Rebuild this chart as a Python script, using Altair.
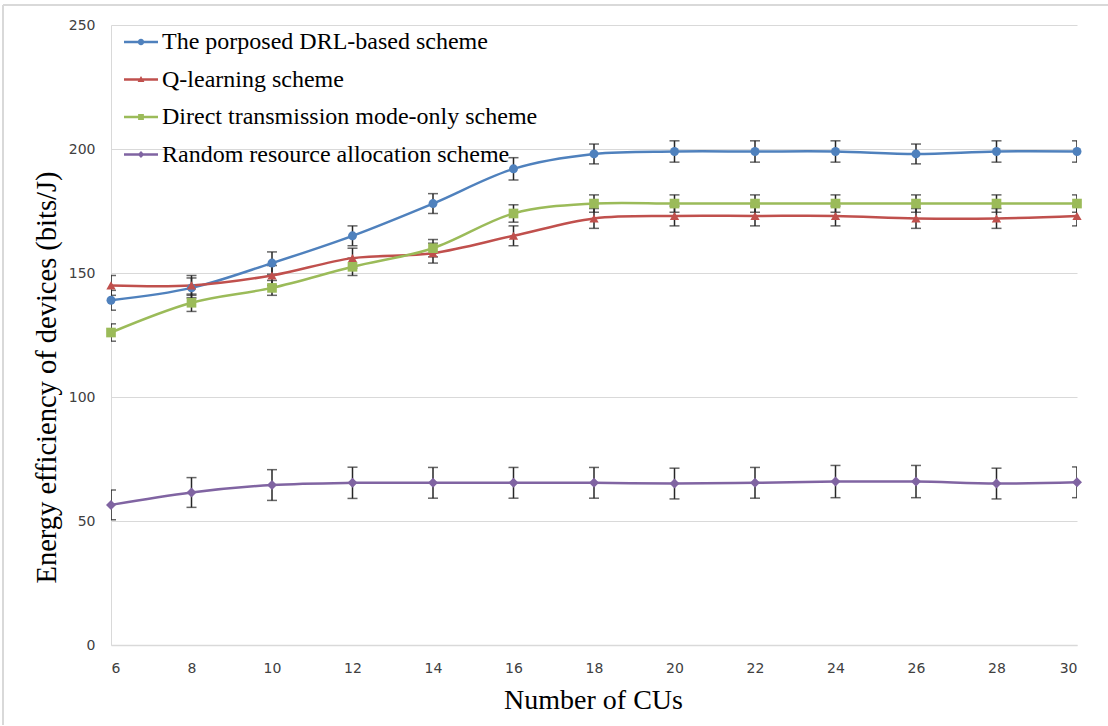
import altair as alt
import pandas as pd

# ---------------- data ----------------
cus = [6, 8, 10, 12, 14, 16, 18, 20, 22, 24, 26, 28, 30]

series_names = [
    "The porposed DRL-based scheme",
    "Q-learning scheme",
    "Direct transmission mode-only scheme",
    "Random resource allocation scheme",
]

drl = [139, 144, 154, 165, 178, 192, 198, 199, 199, 199, 198, 199, 199]
drl_err = [4, 4, 4.5, 4, 4, 4.5, 4, 4.3, 4.3, 4.3, 4, 4.3, 4.3]

qlearn = [145, 145, 149, 156, 158, 165, 172, 173, 173, 173, 172, 172, 173]
qlearn_err = [4, 4, 4, 4, 4, 4, 4, 4, 4, 4, 4, 4, 4]

direct = [126, 138, 144, 152.5, 160, 174, 178, 178, 178, 178, 178, 178, 178]
direct_err = [3.5, 3.5, 3, 3.5, 3.5, 3.5, 3.5, 3.5, 3.5, 3.5, 3.5, 3.5, 3.5]

rand = [56.5, 61.5, 64.5, 65.4, 65.4, 65.4, 65.4, 65.1, 65.4, 65.9, 65.9, 65.1, 65.6]
rand_err = [6, 6, 6.2, 6.3, 6.2, 6.2, 6.2, 6.2, 6.2, 6.5, 6.5, 6.2, 6.2]

x_ticks = list(range(6, 31, 2))
y_ticks = [0, 50, 100, 150, 200, 250]

colors = ["#4F81BD", "#C0504D", "#9BBB59", "#8064A2"]
marker_shapes = ["circle", "triangle-up", "square", "diamond"]

# legend symbols: a short line with the marker in the middle (unit box = 34 px)
_bar = "M-1,-0.075 L1,-0.075 L1,0.075 L-1,0.075 Z "
legend_paths = [
    _bar + "M0.19,0 A0.19,0.19 0 1,1 -0.19,0 A0.19,0.19 0 1,1 0.19,0 Z",
    _bar + "M0,-0.2 L0.2,0.15 L-0.2,0.15 Z",
    _bar + "M-0.17,-0.17 L0.17,-0.17 L0.17,0.17 L-0.17,0.17 Z",
    _bar + "M0,-0.2 L0.2,0 L0,0.2 L-0.2,0 Z",
]

rows = []
for name, vals, errs in zip(series_names, [drl, qlearn, direct, rand],
                            [drl_err, qlearn_err, direct_err, rand_err]):
    for x, v, e in zip(cus, vals, errs):
        rows.append({"series": name, "cus": x, "value": v,
                     "lo": v - e, "hi": v + e})
df = pd.DataFrame(rows)

serif = "Liberation Serif"

x_enc = alt.X("cus:Q",
              scale=alt.Scale(domain=[6, 30], nice=False, zero=False),
              axis=alt.Axis(values=x_ticks, title="Number of CUs",
                            grid=False, ticks=False, domain=True,
                            domainColor="#d9d9d9", domainWidth=1.5,
                            labelFont="DejaVu Sans", labelFontSize=14,
                            labelColor="#404040", labelPadding=16,
                            titleFont=serif, titleFontSize=28,
                            titleFontWeight="normal", titleColor="#000000",
                            titleX=482, titleY=55, titleBaseline="middle"))
y_enc = alt.Y("value:Q",
              scale=alt.Scale(domain=[0, 250], nice=False),
              axis=alt.Axis(values=y_ticks,
                            title="Energy efficiency of devices (bits/J)",
                            grid=True, gridColor="#d9d9d9", gridWidth=1,
                            ticks=False, domain=True, domainColor="#d9d9d9",
                            labelFont="DejaVu Sans", labelFontSize=14,
                            labelColor="#404040", labelPadding=16,
                            titleFont=serif, titleFontSize=28.5,
                            titleFontWeight="normal", titleColor="#000000",
                            titleAngle=-90, titleX=-65, titleY=352,
                            titleAlign="center", titleBaseline="middle"))

color_nolegend = alt.Color("series:N",
                           scale=alt.Scale(domain=series_names, range=colors),
                           legend=None)

base = alt.Chart(df)

err_rule = base.mark_rule(color="#262626", strokeWidth=1.5, clip=True).encode(
    x=x_enc, y=alt.Y("lo:Q"), y2="hi:Q")
err_lo = base.mark_tick(color="#262626", thickness=1.5, size=10,
                        orient="horizontal", clip=True).encode(
    x="cus:Q", y="lo:Q")
err_hi = base.mark_tick(color="#262626", thickness=1.5, size=10,
                        orient="horizontal", clip=True).encode(
    x="cus:Q", y="hi:Q")

lines = base.mark_line(strokeWidth=2.5, interpolate="cardinal", tension=0).encode(
    x="cus:Q", y=y_enc, color=color_nolegend, detail="series:N")

points = base.mark_point(filled=True, opacity=1).encode(
    x="cus:Q", y="value:Q", color=color_nolegend,
    shape=alt.Shape("series:N",
                    scale=alt.Scale(domain=series_names, range=marker_shapes),
                    legend=None),
    size=alt.Size("series:N",
                  scale=alt.Scale(domain=series_names, range=[80, 100, 90, 60]),
                  legend=None))

legend_props = dict(title=None, orient="none", legendX=13, legendY=0,
                    symbolSize=1156, symbolOpacity=1, symbolStrokeWidth=0,
                    labelFont=serif, labelFontSize=24, labelColor="#000000",
                    labelLimit=700, labelOffset=4, rowPadding=8.5, padding=0)

legend_layer = base.mark_point(filled=True, opacity=0).encode(
    x="cus:Q", y="value:Q",
    color=alt.Color("series:N",
                    scale=alt.Scale(domain=series_names, range=colors),
                    legend=alt.Legend(**legend_props)),
    shape=alt.Shape("series:N",
                    scale=alt.Scale(domain=series_names, range=legend_paths),
                    legend=alt.Legend(**legend_props)))

border_top = alt.Chart(df).mark_rule(color="#d9d9d9", strokeWidth=1.5).encode(
    x=alt.value(-108), x2=alt.value(1000), y=alt.value(-20))
border_left = alt.Chart(df).mark_rule(color="#d9d9d9", strokeWidth=1.5).encode(
    x=alt.value(-108), y=alt.value(-20), y2=alt.value(700))

chart = alt.layer(
    err_rule, err_lo, err_hi, lines, points, legend_layer, border_top, border_left
).resolve_scale(
    color="independent", shape="independent", size="independent"
).properties(
    width=966, height=620,
    autosize=alt.AutoSizeParams(type="none"),
    padding={"left": 111, "top": 25, "right": 31, "bottom": 81},
    background="white",
).configure_view(stroke=None)

chart.save("out.html", embed_options={"renderer": "svg", "actions": False})
